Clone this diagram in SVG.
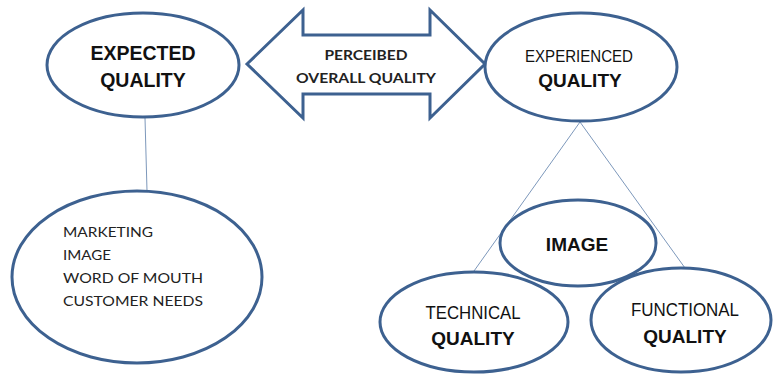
<svg xmlns="http://www.w3.org/2000/svg" width="773" height="376" viewBox="0 0 773 376">
<style>
.node{fill:#fff;stroke:#3d6190;stroke-width:3}
.conn{stroke:#7d98bb;stroke-width:1;fill:none}
.b{font-family:"Liberation Sans",Arial,sans-serif;font-weight:bold;fill:#111;text-anchor:middle}
.r{font-family:"Liberation Sans",Arial,sans-serif;fill:#111;text-anchor:middle}
.c{font-family:Lato,"Open Sans",sans-serif;fill:#222}
</style>
<rect width="773" height="376" fill="#fff"/>
<g id="connectors">
<line class="conn" x1="145" y1="118" x2="147" y2="191"/>
<line class="conn" x1="580" y1="122" x2="474" y2="271"/>
<line class="conn" x1="580" y1="122" x2="685" y2="268"/>
</g>
<g id="expected">
<ellipse class="node" cx="143" cy="65" rx="96" ry="52"/>
<text class="b" x="143" y="60" font-size="19.5">EXPECTED</text>
<text class="b" x="143" y="87" font-size="19.5">QUALITY</text>
</g>
<g id="perceived">
<polygon class="node" points="247,64 303,10 303,35 430,35 430,10 485,64 430,118 430,94 303,94 303,118"/>
<text class="c" x="366" y="60" font-size="14" font-weight="bold" text-anchor="middle" textLength="83" lengthAdjust="spacingAndGlyphs">PERCEIBED</text>
<text class="c" x="366" y="83" font-size="14" font-weight="bold" text-anchor="middle" textLength="140" lengthAdjust="spacingAndGlyphs">OVERALL QUALITY</text>
</g>
<g id="experienced">
<ellipse class="node" cx="581" cy="67" rx="96" ry="54"/>
<text class="r" x="579" y="62" font-size="16" textLength="108" lengthAdjust="spacingAndGlyphs">EXPERIENCED</text>
<text class="b" x="580" y="87" font-size="19">QUALITY</text>
</g>
<g id="marketing">
<ellipse class="node" cx="137" cy="277" rx="125" ry="86"/>
<text class="c" x="63" y="237" font-size="14" textLength="90" lengthAdjust="spacingAndGlyphs">MARKETING</text>
<text class="c" x="63" y="260" font-size="14" textLength="48" lengthAdjust="spacingAndGlyphs">IMAGE</text>
<text class="c" x="63" y="283" font-size="14" textLength="140" lengthAdjust="spacingAndGlyphs">WORD OF MOUTH</text>
<text class="c" x="63" y="306" font-size="14" textLength="140" lengthAdjust="spacingAndGlyphs">CUSTOMER NEEDS</text>
</g>
<g id="technical">
<ellipse class="node" cx="474" cy="322" rx="94" ry="50"/>
<text class="r" x="473" y="319" font-size="18" textLength="95" lengthAdjust="spacingAndGlyphs">TECHNICAL</text>
<text class="b" x="473" y="345" font-size="19">QUALITY</text>
</g>
<g id="functional">
<ellipse class="node" cx="681" cy="320" rx="90" ry="52"/>
<text class="r" x="685" y="316" font-size="18" textLength="108" lengthAdjust="spacingAndGlyphs">FUNCTIONAL</text>
<text class="b" x="685" y="343" font-size="19">QUALITY</text>
</g>
<g id="image">
<ellipse class="node" cx="578" cy="243" rx="78" ry="43"/>
<text class="b" x="577" y="251" font-size="19">IMAGE</text>
</g>
</svg>
